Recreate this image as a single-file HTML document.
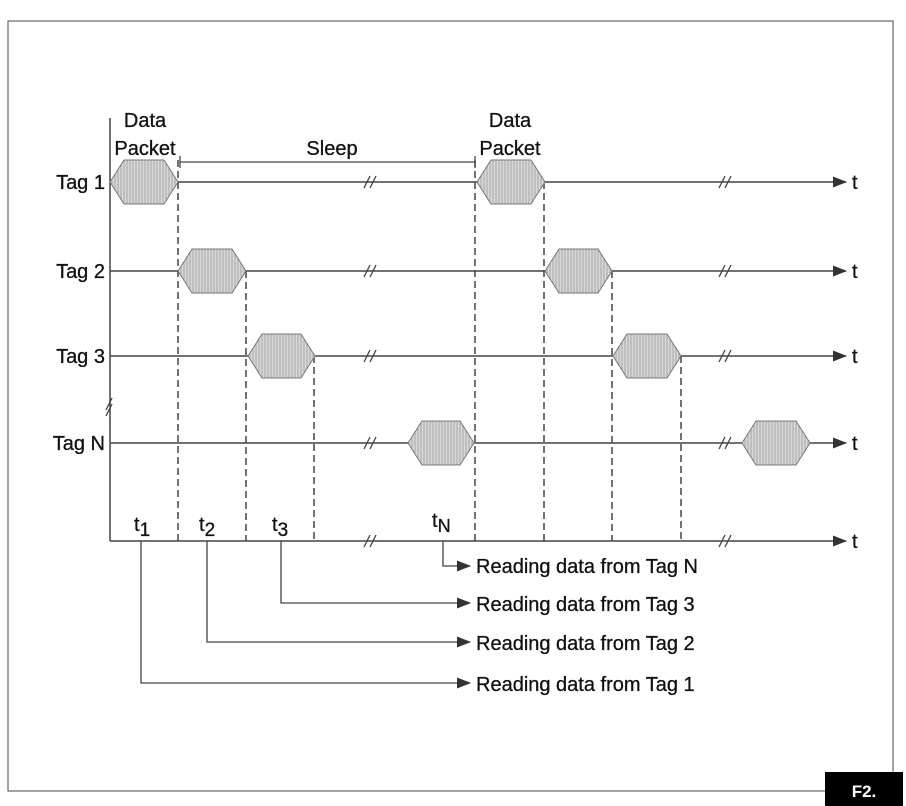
<!DOCTYPE html>
<html><head><meta charset="utf-8"><style>
html,body{margin:0;padding:0;background:#fff;}
svg{display:block;}
text{font-family:"Liberation Sans",Arial,sans-serif;fill:#111;stroke:#111;stroke-width:0.3;}
</style></head><body>
<svg width="906" height="806" viewBox="0 0 906 806" xmlns="http://www.w3.org/2000/svg">
<defs>
<pattern id="h" width="3" height="6" patternUnits="userSpaceOnUse">
<rect width="3" height="6" fill="#d8d8d8"/>
<line x1="1" y1="0" x2="1" y2="6" stroke="#9a9a9a" stroke-width="0.8"/>
</pattern>
<marker id="a" markerWidth="14" markerHeight="11" refX="13" refY="5.5" orient="auto" markerUnits="userSpaceOnUse">
<path d="M0,0 L14,5.5 L0,11 Z" fill="#333"/>
</marker>
<g id="bk" stroke="#444" stroke-width="1.3"><line x1="364" y1="6" x2="370" y2="-6"/><line x1="370" y1="6" x2="376" y2="-6"/></g>
</defs>
<rect x="8" y="21" width="885" height="770" fill="none" stroke="#666" stroke-width="1.2"/>
<rect x="825" y="772" width="78" height="34" fill="#000"/>
<text x="864" y="797" text-anchor="middle" font-size="17" font-weight="bold" style="fill:#fff;stroke:none">F2.</text>

<g stroke="#444" stroke-width="1.5" fill="none">
<line x1="110" y1="118" x2="110" y2="541"/>
<line x1="110" y1="182" x2="846" y2="182" marker-end="url(#a)"/>
<line x1="110" y1="271" x2="846" y2="271" marker-end="url(#a)"/>
<line x1="110" y1="356" x2="846" y2="356" marker-end="url(#a)"/>
<line x1="110" y1="443" x2="846" y2="443" marker-end="url(#a)"/>
<line x1="110" y1="541" x2="846" y2="541" marker-end="url(#a)"/>
</g>
<g stroke="#444" stroke-width="1.5" stroke-dasharray="7,4">
<line x1="178" y1="160" x2="178" y2="541"/>
<line x1="246" y1="271" x2="246" y2="541"/>
<line x1="314" y1="356" x2="314" y2="541"/>
<line x1="475" y1="160" x2="475" y2="541"/>
<line x1="544" y1="182" x2="544" y2="541"/>
<line x1="612" y1="271" x2="612" y2="541"/>
<line x1="681" y1="356" x2="681" y2="541"/>
</g>
<use href="#bk" y="182"/><use href="#bk" y="271"/><use href="#bk" y="356"/><use href="#bk" y="443"/><use href="#bk" y="541"/>
<use href="#bk" x="355" y="182"/><use href="#bk" x="355" y="271"/><use href="#bk" x="355" y="356"/><use href="#bk" x="355" y="443"/><use href="#bk" x="355" y="541"/>
<g stroke="#444" stroke-width="1.3">
<line x1="106" y1="410" x2="112" y2="398"/><line x1="106" y1="416" x2="112" y2="404"/>
</g>
<g fill="url(#h)" stroke="#777" stroke-width="1">
<polygon points="110,182 124,160 164,160 178,182 164,204 124,204"/>
<polygon points="477,182 491,160 531,160 545,182 531,204 491,204"/>
<polygon points="178,271 192,249 232,249 246,271 232,293 192,293"/>
<polygon points="545,271 559,249 598,249 612,271 598,293 559,293"/>
<polygon points="248,356 262,334 301,334 315,356 301,378 262,378"/>
<polygon points="613,356 627,334 667,334 681,356 667,378 627,378"/>
<polygon points="408,443 422,421 460,421 474,443 460,465 422,465"/>
<polygon points="742,443 756,421 796,421 810,443 796,465 756,465"/>
</g>
<g stroke="#444" stroke-width="1.3">
<line x1="180" y1="162" x2="475" y2="162"/>
<line x1="180" y1="156" x2="180" y2="168"/>
<line x1="475" y1="156" x2="475" y2="168"/>
</g>
<g stroke="#444" stroke-width="1.3" fill="none">
<polyline points="443,541 443,566 470,566" marker-end="url(#a)"/>
<polyline points="281,541 281,603 470,603" marker-end="url(#a)"/>
<polyline points="207,541 207,642 470,642" marker-end="url(#a)"/>
<polyline points="141,541 141,683 470,683" marker-end="url(#a)"/>
</g>
<g font-size="20">
<text x="145" y="127" text-anchor="middle">Data</text>
<text x="145" y="155" text-anchor="middle">Packet</text>
<text x="332" y="155" text-anchor="middle">Sleep</text>
<text x="510" y="127" text-anchor="middle">Data</text>
<text x="510" y="155" text-anchor="middle">Packet</text>
<text x="105" y="189" text-anchor="end">Tag 1</text>
<text x="105" y="278" text-anchor="end">Tag 2</text>
<text x="105" y="363" text-anchor="end">Tag 3</text>
<text x="105" y="450" text-anchor="end">Tag N</text>
<text x="852" y="189">t</text><text x="852" y="278">t</text><text x="852" y="363">t</text><text x="852" y="450">t</text><text x="852" y="548">t</text>
<text x="476" y="573">Reading data from Tag N</text>
<text x="476" y="611">Reading data from Tag 3</text>
<text x="476" y="650">Reading data from Tag 2</text>
<text x="476" y="691">Reading data from Tag 1</text>
<text x="134" y="531">t<tspan dy="5" font-size="19">1</tspan></text>
<text x="199" y="531">t<tspan dy="5" font-size="19">2</tspan></text>
<text x="272" y="531">t<tspan dy="5" font-size="19">3</tspan></text>
<text x="432" y="527">t<tspan dy="5" font-size="18">N</tspan></text>
</g>
</svg>
</body></html>
